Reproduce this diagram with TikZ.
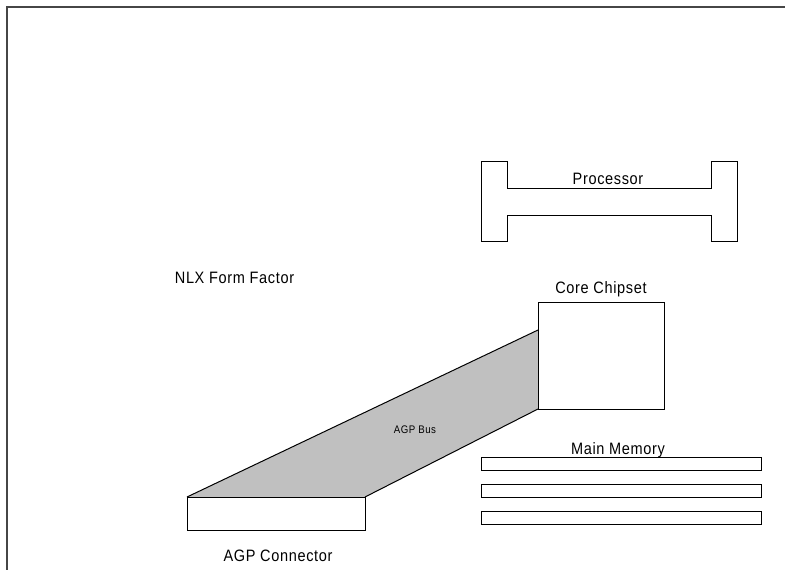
\documentclass[tikz,border=0pt]{standalone}
\usepackage{fontspec}
\setmainfont{Liberation Sans}[FakeStretch=0.88, LetterSpace=4]
\usetikzlibrary{positioning,backgrounds}
\definecolor{busgray}{RGB}{192,192,192}
\definecolor{framegray}{RGB}{70,70,70}

\begin{document}
\begin{tikzpicture}[
  x=1pt, y=-1pt,
  part/.style={draw, line width=1pt, inner sep=0pt, outer sep=0pt},
  dimm/.style={part, minimum width=280pt, minimum height=13pt},
  tag/.style={font=\fontsize{16.5}{18}\selectfont, inner sep=0pt, anchor=base},
  smalltag/.style={font=\fontsize{11}{13}\selectfont, inner sep=0pt, anchor=base}
]
  \useasboundingbox (0,0) rectangle (785,570);
  % outer frame (runs off the page on the right and bottom)
  \draw[framegray, line width=1.3pt] (7,570) -- (7,7) -- (785,7);

  % processor
  \draw[line width=1pt] (481,161) -- (507,161) -- (507,188) -- (711,188) -- (711,161)
    -- (737,161) -- (737,241) -- (711,241) -- (711,215) -- (507,215) -- (507,241)
    -- (481,241) -- cycle;
  \node[tag] (cpu) at (608,184) {Processor};

  \node[tag] (nlx) at (234.5,283) {NLX Form Factor};

  % chipset and AGP parts
  \node[part, minimum width=126pt, minimum height=107pt] (chip) at (601,355.5) {};
  \node[tag] (chiplbl) at (601,293) {Core Chipset};
  \node[part, minimum width=178pt, minimum height=33pt] (conn) at (276,513.5) {};
  \node[tag] (connlbl) at (278,561) {AGP Connector};
  \coordinate (bustop) at (538,330);

  \begin{scope}[on background layer]
    \fill[busgray] (conn.north west) -- (bustop) -- (chip.south west) -- (conn.north east) -- cycle;
  \end{scope}
  \draw[line width=1pt] (conn.north west) -- (bustop);
  \draw[line width=1pt] (conn.north east) -- (chip.south west);
  \node[smalltag] (buslbl) at (415,433) {AGP Bus};

  % memory
  \node[dimm] (mem1) at (621,463.5) {};
  \node[dimm, below=14pt of mem1] (mem2) {};
  \node[dimm, below=14pt of mem2] (mem3) {};
  \node[tag] (memlbl) at (618,454) {Main Memory};
\end{tikzpicture}
\end{document}
